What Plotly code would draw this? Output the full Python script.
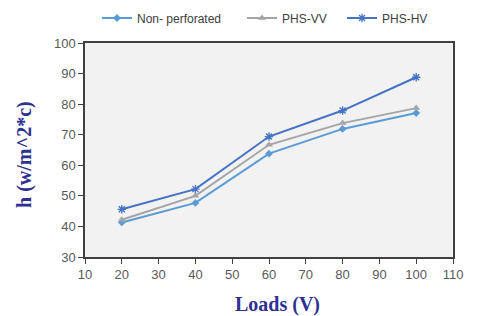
import plotly.graph_objects as go

loads = [20, 40, 60, 80, 100]
non_perforated = [41.3, 47.7, 63.8, 71.9, 77.1]
phs_vv = [42.2, 50.0, 66.7, 73.8, 78.7]
phs_hv = [45.6, 52.2, 69.4, 77.9, 88.8]

x_ticks = list(range(10, 111, 10))
y_ticks = list(range(30, 101, 10))

fig = go.Figure()
fig.add_trace(go.Scatter(x=loads, y=non_perforated, name="Non- perforated", mode="lines+markers",
                         legendwidth=100,
                         line=dict(color="#5b9bd5", width=2),
                         marker=dict(symbol="diamond", size=6, color="#5b9bd5")))
fig.add_trace(go.Scatter(x=loads, y=phs_vv, name="PHS-VV", mode="lines+markers",
                         legendwidth=55,
                         line=dict(color="#a5a5a5", width=2),
                         marker=dict(symbol="triangle-up", size=7, color="#a5a5a5")))
fig.add_trace(go.Scatter(x=loads, y=phs_hv, name="PHS-HV", mode="lines+markers",
                         line=dict(color="#4472c4", width=2),
                         marker=dict(symbol="asterisk-open", size=7, color="#4472c4",
                                     line=dict(color="#4472c4", width=1.3))))

axis_common = dict(showgrid=False, zeroline=False, showline=True, linecolor="#404040", linewidth=1.5,
                   mirror=True, ticks="outside", ticklen=5, tickcolor="#404040", automargin=False,
                   tickfont=dict(family="Liberation Sans, Arial", size=13, color="#595959"))

title_font = dict(family="Liberation Serif, Times New Roman", size=20, color="#2e3192", weight="bold")

fig.update_layout(
    width=480, height=316,
    margin=dict(l=77, r=35, t=35, b=67),
    paper_bgcolor="white", plot_bgcolor="#f2f2f2",
    showlegend=True,
    legend=dict(orientation="h", x=89 / 480, y=1 - 10 / 316, xref="container", yref="container",
                xanchor="left", yanchor="middle",
                font=dict(family="Liberation Sans, Arial", size=12, color="#404040"),
                bgcolor="rgba(0,0,0,0)", itemwidth=30, tracegroupgap=0),
    xaxis=dict(range=[10, 110], tickvals=x_ticks, **axis_common),
    yaxis=dict(range=[30, 100], tickvals=y_ticks, **axis_common),
    annotations=[
        dict(text="Loads (V)", xref="paper", yref="paper", x=0.524, y=-0.224,
             xanchor="center", yanchor="middle", showarrow=False, font=title_font),
        dict(text="h (w/m^2*c)", xref="paper", yref="paper", x=-0.163, y=0.477,
             xanchor="center", yanchor="middle", textangle=-90, showarrow=False, font=title_font),
    ],
)

fig.write_html("out.html")
